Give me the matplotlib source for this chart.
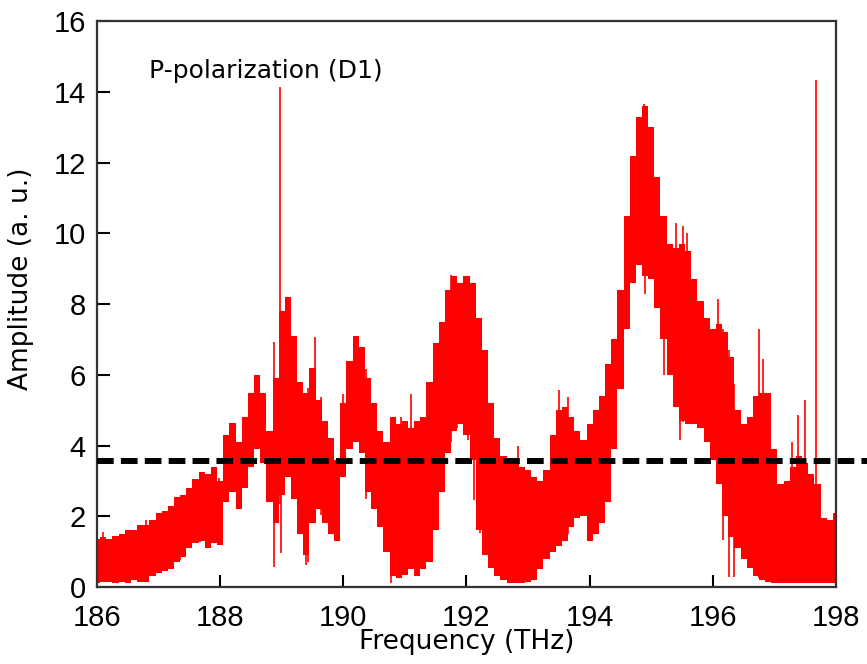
import numpy as np
import matplotlib
matplotlib.use("Agg")
import matplotlib.pyplot as plt

freq = np.linspace(186.0, 198.0, 121)
amp_upper = [
    1.35, 1.40, 1.35, 1.45, 1.50, 1.60, 1.60, 1.75, 1.75, 1.90,
    2.10, 2.15, 2.30, 2.55, 2.60, 2.80, 3.05, 3.25, 3.20, 3.40,
    3.00, 4.30, 4.65, 4.10, 4.80, 5.50, 6.00, 5.50, 4.40, 5.90,
    7.80, 8.20, 7.10, 5.80, 5.50, 6.20, 5.30, 4.70, 4.20, 3.60,
    5.20, 6.40, 7.10, 6.80, 5.90, 5.20, 4.40, 4.10, 4.80, 4.60,
    4.70, 4.50, 4.70, 4.80, 5.80, 6.90, 7.50, 8.40, 8.80, 8.60,
    8.80, 8.60, 7.60, 6.70, 5.20, 4.20, 3.70, 3.60, 3.50, 3.40,
    3.30, 3.10, 3.00, 3.30, 4.30, 5.00, 5.10, 4.80, 4.40, 4.15,
    4.60, 5.00, 5.40, 6.30, 7.00, 8.40, 10.5, 12.2, 13.3, 13.6,
    13.0, 11.6, 10.5, 9.70, 9.60, 9.70, 9.50, 8.70, 8.10, 7.60,
    7.30, 7.45, 7.20, 6.50, 5.00, 4.60, 4.80, 5.40, 5.50, 5.50,
    3.90, 2.90, 3.00, 3.40, 3.70, 3.50, 3.20, 2.90, 1.95, 1.90,
    2.10,
]
amp_lower = [
    0.10, 0.15, 0.15, 0.10, 0.15, 0.10, 0.20, 0.15, 0.15, 0.30,
    0.40, 0.45, 0.50, 0.70, 0.85, 1.10, 1.25, 1.30, 1.10, 1.25,
    1.20, 2.40, 2.70, 2.20, 2.80, 3.40, 3.90, 3.50, 2.40, 1.80,
    2.60, 3.10, 2.50, 1.50, 0.90, 1.80, 2.20, 1.80, 1.50, 1.30,
    3.10, 3.90, 4.10, 3.80, 2.70, 2.20, 1.70, 1.00, 0.30, 0.25,
    0.35, 0.50, 0.30, 0.50, 0.70, 1.60, 2.70, 3.80, 4.40, 4.60,
    4.30, 3.60, 1.60, 0.90, 0.55, 0.30, 0.20, 0.10, 0.10, 0.10,
    0.15, 0.20, 0.50, 0.80, 1.00, 1.15, 1.30, 1.70, 1.95, 2.00,
    1.30, 1.50, 1.80, 2.40, 3.90, 5.60, 7.30, 8.60, 9.10, 8.80,
    8.70, 7.90, 7.00, 6.00, 5.10, 4.70, 4.60, 4.60, 4.50, 4.10,
    3.60, 2.90, 2.00, 1.40, 1.10, 0.80, 0.55, 0.30, 0.20, 0.15,
    0.10, 0.12, 0.10, 0.10, 0.12, 0.10, 0.10, 0.12, 0.10, 0.10,
    0.10,
]

# isolated peaks sticking out of the band
spike_up_freq = [186.09, 186.8, 187.35, 187.67, 188.88, 188.97, 189.4, 189.54,
                 189.64, 190.0, 190.93, 191.1, 191.4, 191.75, 191.85, 192.02,
                 192.1, 192.84, 193.5, 193.65, 194.88, 195.4, 195.52, 195.58,
                 196.08, 196.75, 196.82, 197.28, 197.39, 197.5, 197.68]
spike_up_top = [1.56, 1.89, 2.4, 3.22, 6.93, 14.15, 5.47, 7.07,
                5.38, 5.47, 4.8, 5.47, 5.75, 8.81, 8.58, 8.77,
                8.58, 4.0, 5.57, 5.38, 13.66, 10.3, 10.2, 10.0,
                8.15, 7.3, 6.46, 4.1, 4.86, 5.28, 14.35]
spike_down_freq = [187.98, 188.88, 188.99, 189.4, 189.42, 190.37, 190.77,
                   192.12, 192.22, 192.3, 194.9, 195.2, 195.46, 196.16,
                   196.27, 196.35]
spike_down_bottom = [1.24, 0.57, 0.95, 0.62, 0.7, 2.5, 0.1,
                     2.46, 1.52, 0.95, 8.29, 6.0, 4.15, 1.33,
                     0.29, 0.29]

threshold = 3.55

fig = plt.figure(figsize=(8.67, 6.64), dpi=100)
ax = fig.add_axes([0.1119, 0.116, 0.8523, 0.852])

ax.fill_between(freq, amp_lower, amp_upper, step="mid", color="#ff0000", lw=0)
up_base = np.interp(spike_up_freq, freq, amp_lower)
ax.vlines(spike_up_freq, up_base, spike_up_top, color="#ff0000", lw=1.2)
down_top = np.interp(spike_down_freq, freq, amp_upper)
ax.vlines(spike_down_freq, spike_down_bottom, down_top, color="#ff0000", lw=1.2)

ax.axhline(threshold, xmin=0, xmax=1.06, color="black", lw=4.3,
           dashes=(2.8, 1.2), clip_on=False, zorder=5)

ax.text(186.85, 14.4, "P-polarization (D1)", fontsize=18, family="DejaVu Sans")

ax.set_xlim(186, 198)
ax.set_ylim(0, 16)
ax.set_xticks(np.arange(186, 199, 2))
ax.set_yticks(np.arange(0, 17, 2))
ax.tick_params(direction="in", length=9, width=1.5, labelsize=21,
               top=False, right=False)
ax.tick_params(axis="x", pad=12)
ax.tick_params(axis="y", pad=8)
for lab in ax.get_xticklabels() + ax.get_yticklabels():
    lab.set_family("Liberation Sans")
for sp in ax.spines.values():
    sp.set_linewidth(1.6)
    sp.set_color("#333333")

ax.set_xlabel("Frequency (THz)", fontsize=19, family="DejaVu Sans", labelpad=-2)
ax.set_ylabel("Amplitude (a. u.)", fontsize=19, family="DejaVu Sans")
ax.yaxis.set_label_coords(-0.085, 0.545)

fig.savefig("out.png", dpi=100)
